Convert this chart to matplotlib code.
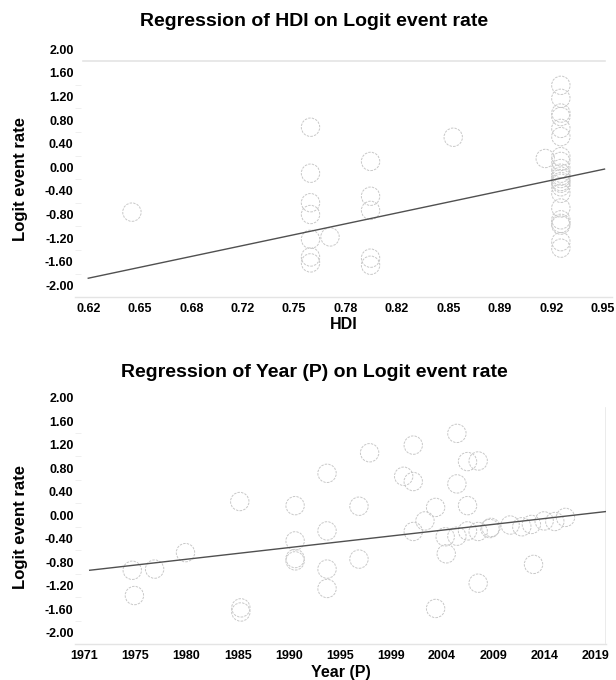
#
# Meta-regression scatter plots: HDI and Year vs logit event rate
#

import matplotlib
matplotlib.use("Agg")
import matplotlib.pyplot as plt
import numpy as np

plt.rcParams['font.family'] = ['Liberation Sans', 'DejaVu Sans']
plt.rcParams['font.weight'] = 'bold'

# 1. Input
hdi = [0.648,
       0.7625, 0.7625, 0.7625, 0.7625, 0.7625, 0.7625, 0.7625,
       0.775,
       0.801, 0.801, 0.801, 0.801, 0.801,
       0.854, 0.913,
       0.923, 0.923, 0.923, 0.923, 0.923, 0.923, 0.923, 0.923, 0.923, 0.923, 0.923,
       0.923, 0.923, 0.923, 0.923, 0.923, 0.923, 0.923, 0.923, 0.923, 0.923, 0.923]
logit_hdi = [-0.76,
             0.68, -0.10, -0.60, -0.80, -1.22, -1.52, -1.62,
             -1.18,
             0.10, -0.49, -0.73, -1.54, -1.66,
             0.51, 0.15,
             1.39, 1.17, 0.92, 0.86, 0.66, 0.52, 0.18, 0.10, -0.02, -0.10, -0.15,
             -0.19, -0.24, -0.27, -0.33, -0.44, -0.69, -0.89, -0.95, -0.98, -1.26, -1.37]

year = [1975.5, 1975.7, 1977.6, 1980.5, 1985.6, 1985.7, 1985.7,
        1990.8, 1990.8, 1990.8, 1990.8,
        1993.8, 1993.8, 1993.8, 1993.8,
        1996.8, 1996.8, 1997.8, 2001.0, 2001.9, 2001.9, 2001.9,
        2003.0, 2004.0, 2004.0, 2004.9, 2005.0,
        2006.0, 2006.0, 2006.0, 2007.0, 2007.0, 2007.0,
        2008.0, 2008.0, 2008.0, 2009.1, 2009.2,
        2011.0, 2012.1, 2013.0, 2013.2, 2014.2, 2015.2, 2016.2]
logit_year = [-0.94, -1.37, -0.92, -0.64, 0.23, -1.58, -1.65,
              0.16, -0.44, -0.74, -0.78,
              0.71, -0.27, -0.92, -1.25,
              0.15, -0.75, 1.06, 0.66, 1.19, 0.57, -0.28,
              -0.10, 0.13, -1.59, -0.37, -0.66,
              1.39, 0.53, -0.36, 0.91, 0.16, -0.27,
              0.92, -0.28, -1.16, -0.23, -0.21,
              -0.17, -0.20, -0.16, -0.84, -0.10, -0.11, -0.04]

# regression lines (intercept at left tick, slope)
hdi_fit = (0.62, -1.88, 5.59)
year_fit = (1971, -0.95, 0.0206)

hdi_ticks = ["0.62", "0.65", "0.68", "0.72", "0.75", "0.78",
             "0.82", "0.85", "0.89", "0.92", "0.95"]
year_ticks = ["1971", "1975", "1980", "1985", "1990", "1995",
              "1999", "2004", "2009", "2014", "2019"]
y_ticks = np.round(np.arange(-2.0, 2.01, 0.4), 2) + 0.0

# 2. Process
W, H = 616, 680
fig = plt.figure(figsize=(W / 100, H / 100), dpi=100)

def px_box(left, right, top, bottom):
    return [left / W, 1 - bottom / H, (right - left) / W, (bottom - top) / H]

ax1 = fig.add_axes(px_box(75, 612, 46.4, 297.1))
ax2 = fig.add_axes(px_box(75, 606, 394.6, 644.3))

def style(ax, xlim, ticks, labels, xlabel, title, title_size, title_y, width):
    ax.set_xlim(*xlim)
    ax.set_ylim(-2.2, 2.05)
    ax.set_xticks(np.linspace(ticks[0], ticks[1], 11))
    ax.set_xticklabels(labels)
    ax.set_yticks(y_ticks)
    ax.set_yticklabels(["%.2f" % abs(v) if abs(v) < 1e-9 else "%.2f" % v for v in y_ticks])
    ax.set_yticks(np.arange(-1.8, 1.41, 0.4), minor=True)
    ax.tick_params(axis='both', which='major', length=0, labelsize=9)
    ax.tick_params(axis='x', pad=4)
    ax.tick_params(axis='y', pad=1)
    ax.tick_params(axis='y', which='minor', length=4, direction='in', color='#ececec')
    ax.tick_params(axis='x', which='minor', length=0)
    for s in ['top', 'right', 'left']:
        ax.spines[s].set_visible(False)
    ax.spines['bottom'].set_color('#e4e4e4')
    ax.spines['bottom'].set_linewidth(1.0)
    ax.set_xlabel(xlabel, fontsize=11.5, fontweight='bold', labelpad=2)
    ax.set_ylabel("Logit event rate", fontsize=12, fontweight='bold')
    ax.yaxis.set_label_coords((28.5 - 75) / width, 0.47)
    fig.text(314 / W, 1 - title_y / H, title, fontsize=title_size,
             fontweight='bold', ha='center', va='center')

# 3. Output
circ = dict(s=175, facecolors='none', edgecolors='#c8c8c8', linewidths=0.7,
            linestyles=(0, (2.5, 1.2)), zorder=2)

style(ax1, (0.6115, 0.9558), (0.62, 0.95), hdi_ticks, "HDI",
      "Regression of HDI on Logit event rate", 14, 22, 537)
ax1.scatter(hdi, logit_hdi, **circ)
xs = np.array([0.62, 0.951])
ax1.plot(xs, hdi_fit[1] + hdi_fit[2] * (xs - hdi_fit[0]), color='#505050', lw=1.0, zorder=3)
ax1.axhline(1.8, xmin=7.5 / 537, xmax=530 / 537, color='#e4e4e4', lw=1.2)

style(ax2, (1970.12, 2020.01), (1971, 2019), year_ticks, "Year (P)",
      "Regression of Year (P) on Logit event rate", 14, 372, 531)
ax2.scatter(year, logit_year, **circ)
xs = np.array([1971.5, 2020.0])
ax2.plot(xs, year_fit[1] + year_fit[2] * (xs - year_fit[0]), color='#505050', lw=1.0, zorder=3)
ax2.axvline(2020.0, ymin=0.03 / 4.25, ymax=4.02 / 4.25, color='#e8e8e8', lw=1.2)

fig.savefig("out.png", dpi=100)
